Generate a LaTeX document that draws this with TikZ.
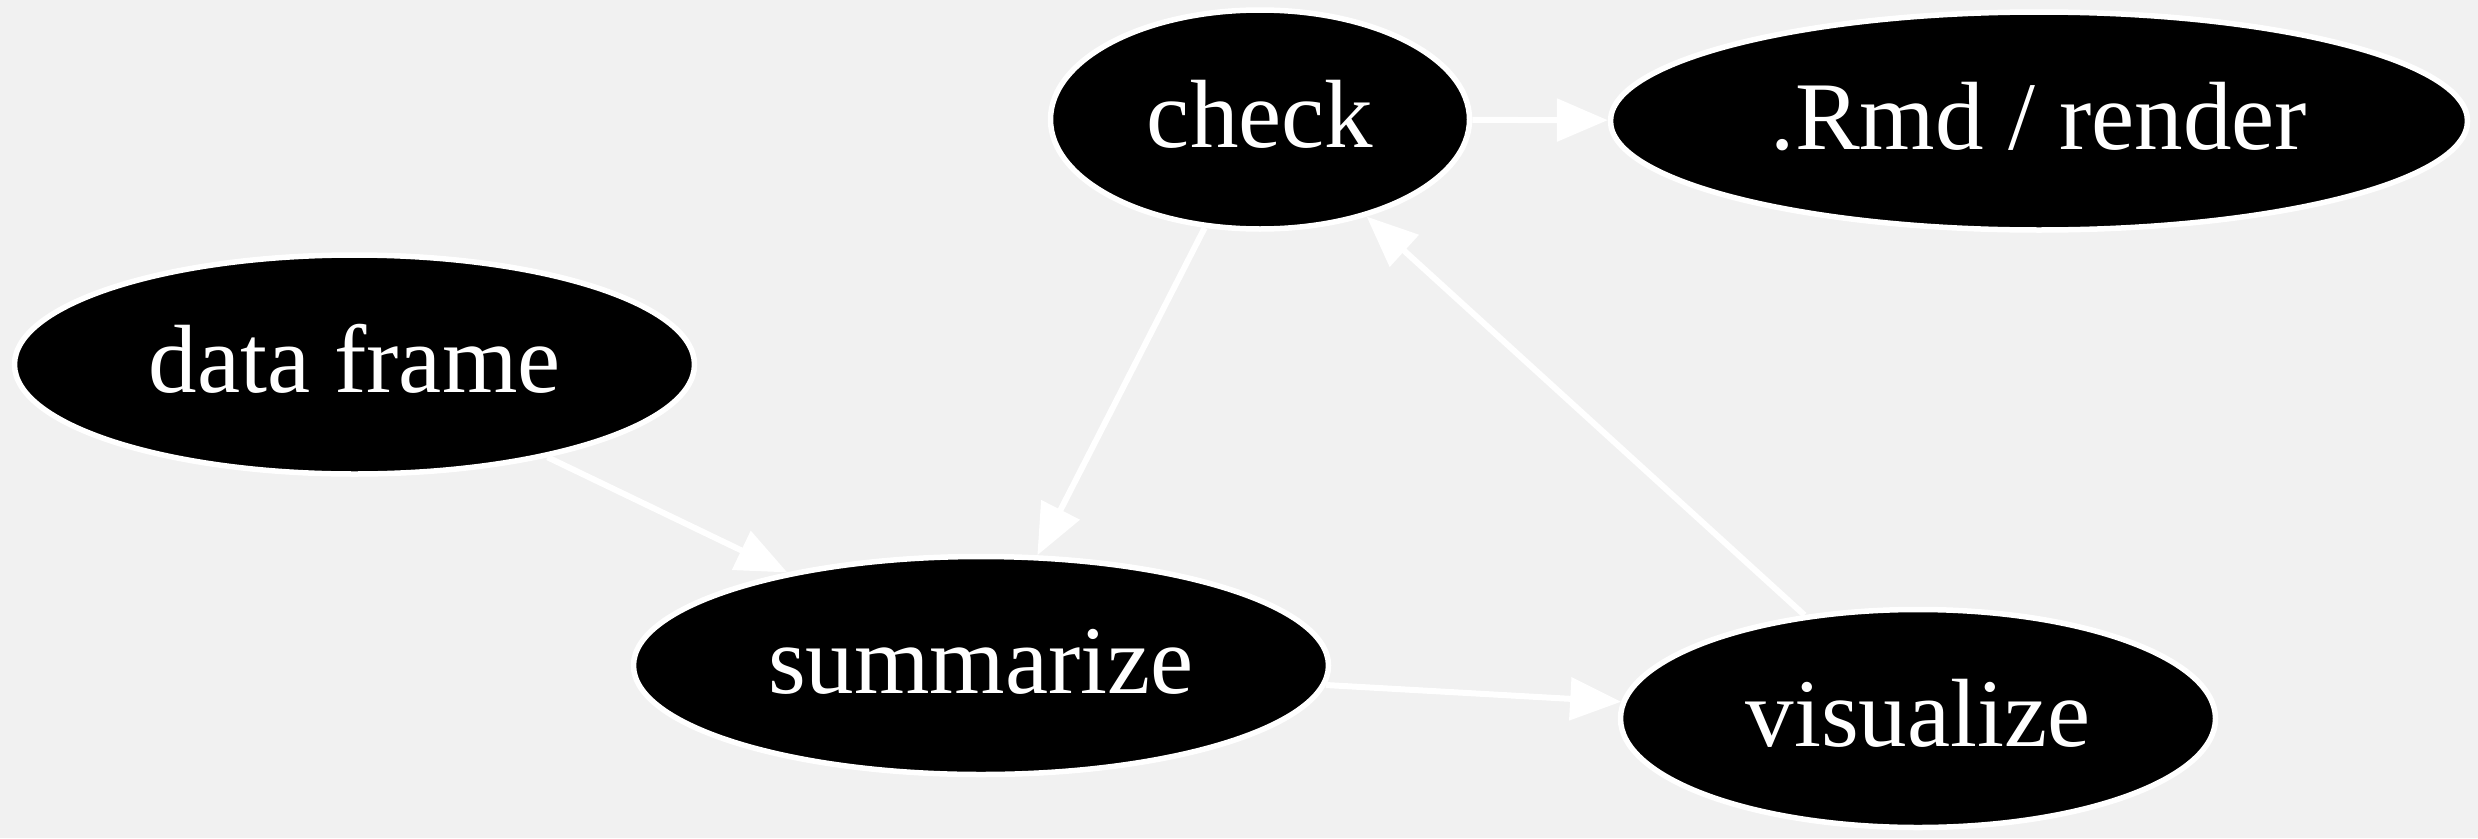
\documentclass[tikz,border=0pt]{standalone}
\usepackage{fontspec}
\setmainfont{Liberation Serif}
\usetikzlibrary{shapes.geometric,arrows.meta}
\definecolor{bg}{RGB}{241,241,241}
\tikzset{
  gnode/.style={ellipse, draw=white, fill=black, line width=5.5pt, inner sep=0pt,
    text=white, font=\fontsize{97}{116}\selectfont, text height=66pt, text depth=10pt},
  gedge/.style={draw=white, line width=6pt, -{Triangle[length=51pt,width=42pt]}}
}
\begin{document}
\begin{tikzpicture}[x=1pt,y=-1pt]
\fill[bg] (0,0) rectangle (2478,838);
\useasboundingbox (0,0) rectangle (2478,838);
\node[gnode, minimum width=680pt, minimum height=219pt] (df) at (354.5,364.5) {data frame};
\node[gnode, minimum width=695pt, minimum height=218pt] (sum) at (981,665.5) {summarize};
\node[gnode, minimum width=419pt, minimum height=219pt] (chk) at (1260,119.5) {check};
\node[gnode, minimum width=857pt, minimum height=218pt] (rmd) at (2039,121) {.Rmd / render};
\node[gnode, minimum width=595pt, minimum height=218pt] (vis) at (1918,718.5) {visualize};
\draw[gedge] (df) -- (sum);
\draw[gedge] (chk) -- (sum);
\draw[gedge] (sum) -- (vis);
\draw[gedge] (vis) -- (chk);
\draw[gedge] (chk) -- (rmd);
\end{tikzpicture}
\end{document}
